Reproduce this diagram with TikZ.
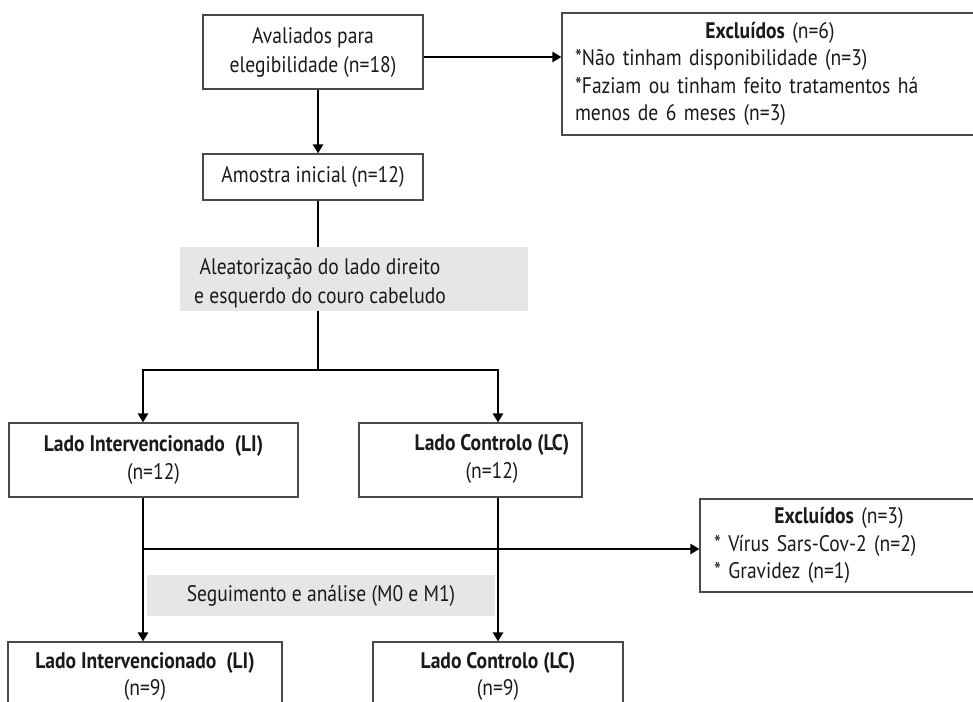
\documentclass[tikz,border=0pt]{standalone}
\usepackage{fontspec}
\setmainfont{PT Sans}[FakeStretch=0.87]
\usetikzlibrary{arrows.meta}
\definecolor{boxgray}{HTML}{4A4A4A}
\definecolor{band}{HTML}{E6E6E6}
\definecolor{txt}{HTML}{1A1A1A}
\newcommand{\myast}{{*}}
\begin{document}
\begin{tikzpicture}[x=1pt,y=-1pt,
  box/.style={draw=boxgray, line width=1.1pt, fill=white, inner sep=0pt, text=txt,
    font=\fontsize{22.5}{27.5}\selectfont, align=center},
  plain/.style={inner sep=0pt, text=txt, font=\fontsize{22.5}{28.5}\selectfont, align=center},
  grayband/.style={fill=band, draw=none, inner sep=0pt},
  conn/.style={line width=2.4pt, draw=black},
  arr/.style={conn, -{Triangle[length=9pt,width=10pt]}},
]
\useasboundingbox (0,0) rectangle (973,701);
\clip (0,0) rectangle (973,701);

% guide coordinates
\coordinate (xa) at (318,0);
\coordinate (xl) at (143,0);
\coordinate (xr) at (498,0);
\coordinate (ya) at (0,57);
\coordinate (hy) at (0,549);
\coordinate (split) at (318,370);

% boxes
\node[box, minimum width=220pt, minimum height=74pt, font=\fontsize{22.5}{29}\selectfont] (aval) at (313,52)
  {Avaliados para\\elegibilidade (n=18)};
\node[box, minimum width=220pt, minimum height=46pt] (amos) at (313,177)
  {Amostra inicial (n=12)};
\node[box, minimum width=416pt, minimum height=122pt, align=left, text width=390pt] (ex1) at (770,74)
  {\makebox[390pt]{\textbf{Excluídos} (n=6)}\\
   \relax\myast Não tinham disponibilidade (n=3)\\
   \relax\myast Faziam ou tinham feito tratamentos há\\
   menos de 6 meses (n=3)};

\node[grayband, minimum width=348pt, minimum height=64pt] (alea) at (354,279) {};
\begin{scope}
  \clip (180,247) rectangle (528,311);
  \node[plain] (aleat) at (320,283) {Aleatorização do lado direito\\e esquerdo do couro cabeludo};
\end{scope}

\node[box, minimum width=289pt, minimum height=74pt] (lit) at (153.5,460)
  {\textbf{Lado Intervencionado\ \ (LI)}\\(n=12)};
\node[box, minimum width=223pt, minimum height=74pt] (lct) at (470.5,460) {};
\node[plain, font=\fontsize{22.5}{27.5}\selectfont] (lctt) at (492,459) {\textbf{Lado Controlo (LC)}\\(n=12)};

\node[box, minimum width=278pt, minimum height=93pt, align=left, text width=250pt] (ex2) at (839,545.5)
  {\makebox[250pt]{\textbf{Excluídos} (n=3)}\\
   \relax\myast\ Vírus Sars-Cov-2 (n=2)\\
   \relax\myast\ Gravidez (n=1)};

\node[grayband, minimum width=348pt, minimum height=41pt] (segu) at (321,595.5)
  {\fontsize{22.5}{27}\selectfont\color{txt}Seguimento e análise (M0 e M1)};

\node[box, minimum width=274pt, minimum height=69pt] (lib) at (145,676.5)
  {\textbf{Lado Intervencionado\ \ (LI)}\\(n=9)};
\node[box, minimum width=250pt, minimum height=69pt] (lcb) at (498,676.5)
  {\textbf{Lado Controlo (LC)}\\(n=9)};

% connectors
\draw[arr] (aval.east |- ya) -- (ex1.west |- ya);
\draw[arr] (aval.south -| xa) -- (amos.north -| xa);
\draw[conn] (amos.south -| xa) -- (alea.north -| xa);
\draw[conn] (alea.south -| xa) -- (split);
\draw[arr] (split) -| (lit.north -| xl);
\draw[arr] (split) -| (lct.north -| xr);
\draw[arr] (lit.south -| xl) -- (lib.north -| xl);
\draw[arr] (lct.south -| xr) -- (lcb.north -| xr);
\draw[arr] (xl |- hy) -- (ex2.west |- hy);
\end{tikzpicture}
\end{document}
